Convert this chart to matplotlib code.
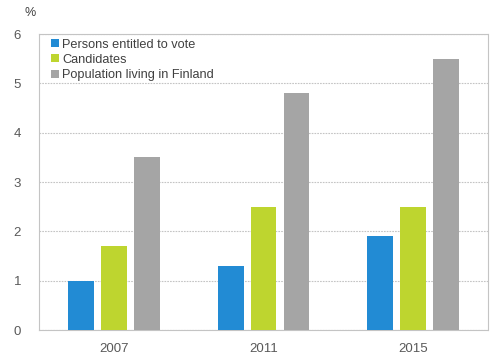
import numpy as np
from matplotlib import pyplot as plt
import matplotlib.ticker as plticker

years = ["2007", "2011", "2015"]
voters = [1.0, 1.3, 1.9]
candidates = [1.7, 2.5, 2.5]
population = [3.5, 4.8, 5.5]
series_names = ["Persons entitled to vote", "Candidates", "Population living in Finland"]

plt.rcParams['font.family'] = ["Liberation Sans", "DejaVu Sans"]
fig = plt.figure(figsize=(5.02, 3.58), dpi=100)
ax = fig.add_axes([0.078, 0.078, 0.894, 0.827])

x = np.arange(len(years))
width = 0.173
step = 0.22
colors = ["#228BD4", "#BED52F", "#A5A5A5"]
for i, (vals, name) in enumerate(zip([voters, candidates, population], series_names)):
    ax.bar(x + (i - 1) * step, vals, width, color=colors[i], label=name, zorder=3)

ax.set_xlim(-0.5, 2.5)
ax.set_ylim(0, 6)
ax.yaxis.set_major_locator(plticker.MultipleLocator(1))
ax.set_xticks(x)
ax.set_xticklabels(years)
ax.yaxis.grid(True, color="#C4C4C4", linestyle=(0, (1.5, 1)), linewidth=0.8)
ax.set_axisbelow(True)
for s in ax.spines.values():
    s.set_color("#C4C4C4")
    s.set_linestyle((0, (1.5, 1)))
    s.set_linewidth(0.8)
ax.tick_params(length=0, labelsize=9.5, colors="#595959")
ax.tick_params(axis="x", pad=9)
ax.tick_params(axis="y", pad=13)
fig.text(0.048, 0.955, "%", fontsize=9, color="#404040")

leg = ax.legend(loc="upper left", bbox_to_anchor=(0.01, 1.01), frameon=False, fontsize=9.2,
                handlelength=0.6, handleheight=0.6, handletextpad=0.25, labelspacing=0.25,
                borderaxespad=0.2)
for t in leg.get_texts():
    t.set_color("#404040")

plt.savefig("out.png", dpi=100)
